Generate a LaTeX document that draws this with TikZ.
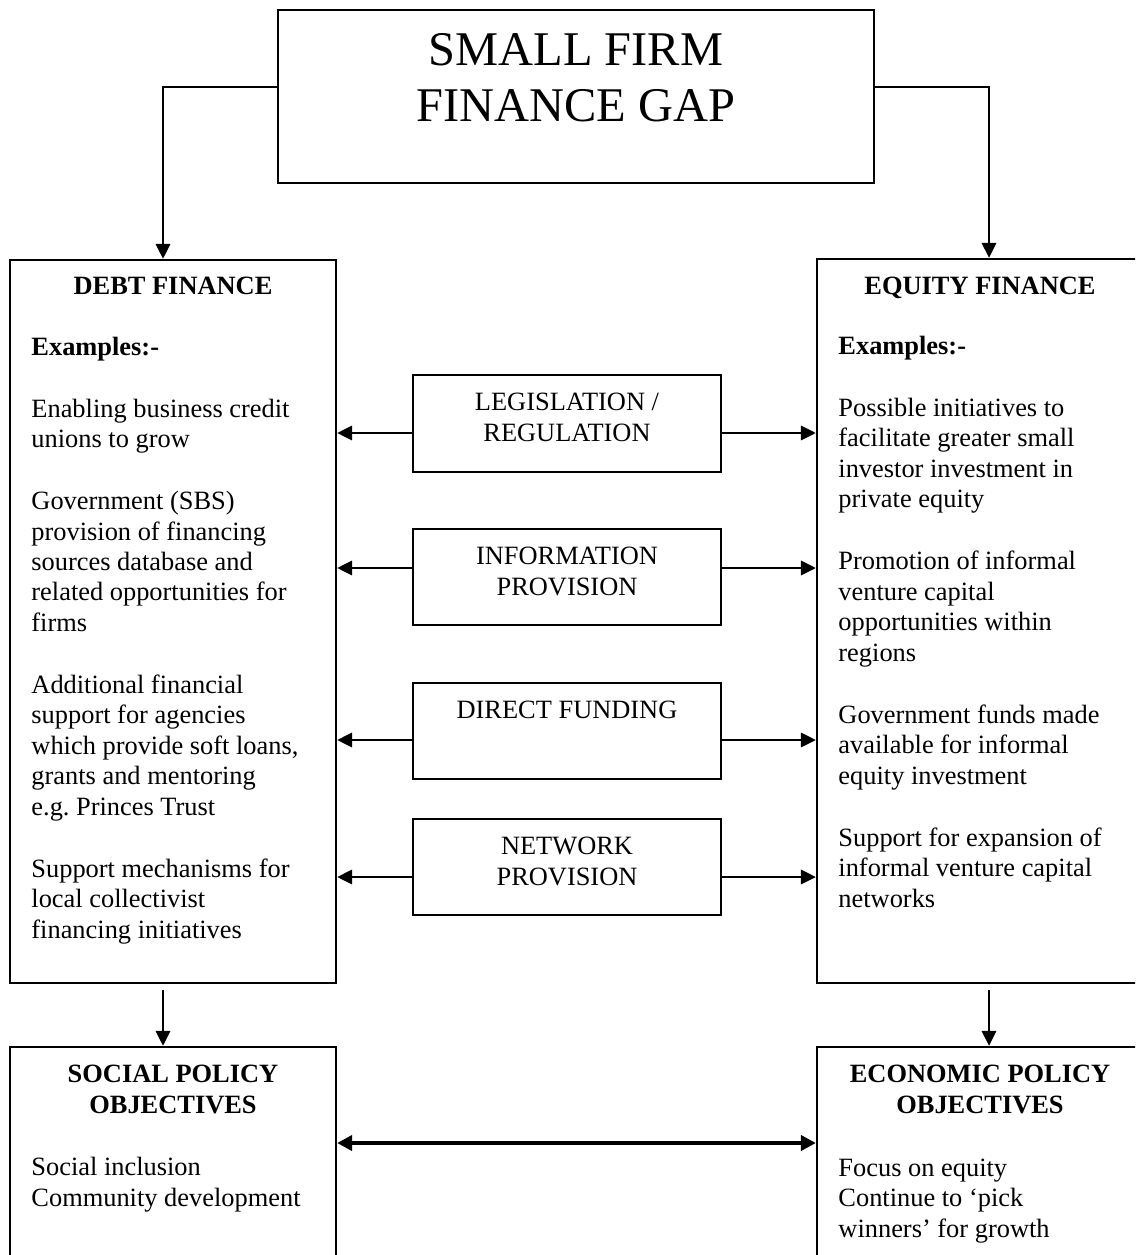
\documentclass[tikz,border=0pt]{standalone}
\usepackage{fontspec}
\setmainfont{Liberation Serif}
\usetikzlibrary{arrows.meta,fit}
\frenchspacing

\tikzset{
  box/.style={draw, line width=1pt, inner sep=0pt},
  arr/.style={-{Triangle[length=6.8pt,width=6.4pt]}, line width=1.3pt},
  dblarr/.style={{Triangle[length=6.8pt,width=6.8pt]}-{Triangle[length=6.8pt,width=6.8pt]}, line width=1.9pt},
  head/.style={inner sep=0pt, font=\fontsize{12}{13.8}\selectfont\bfseries, align=center, anchor=base},
  mid/.style={inner sep=0pt, font=\fontsize{12}{13.8}\selectfont, align=center, anchor=base},
  body/.style={inner sep=0pt, font=\fontsize{12}{13.8}\selectfont, align=left, anchor=base west},
}

\begin{document}
\begin{tikzpicture}[x=0.4545pt, y=-0.4545pt]
  \useasboundingbox (0,0) rectangle (1135,1255);
  \clip (0,0) rectangle (1135,1255);

  % the gap (text nodes sit on their last baseline)
  \node[box, fit={(278,10) (874,183)}] (gap) {};
  \node[inner sep=0pt, font=\fontsize{22}{25.9}\selectfont, align=center, anchor=base] (gaptext) at (576,122) {SMALL FIRM\\FINANCE GAP};

  % debt and equity
  \node[box, fit={(10,260) (336,983)}] (debt) {};
  \node[box, fit={(817,259) (1160,983)}] (equity) {};
  \node[head] (debthead) at (173,295) {DEBT FINANCE};
  \node[head] (equityhead) at (980,295) {EQUITY FINANCE};
  \node[body] (debtbody) at (31,938) {\textbf{Examples:-}\\[14.3pt]
    Enabling business credit\\unions to grow\\[14.5pt]
    Government (SBS)\\provision of financing\\sources database and\\related opportunities for\\firms\\[14.5pt]
    Additional financial\\support for agencies\\which provide soft loans,\\grants and mentoring\\e.g. Princes Trust\\[14.5pt]
    Support mechanisms for\\local collectivist\\financing initiatives};
  \node[body] (equitybody) at (838,907) {\textbf{Examples:-}\\[14.3pt]
    Possible initiatives to\\facilitate greater small\\investor investment in\\private equity\\[14.5pt]
    Promotion of informal\\venture capital\\opportunities within\\regions\\[14.5pt]
    Government funds made\\available for informal\\equity investment\\[14.5pt]
    Support for expansion of\\informal venture capital\\networks};

  % policy tools
  \node[box, fit={(413,375) (721,472)}] (leg) {};
  \node[box, fit={(413,529) (721,625)}] (info) {};
  \node[box, fit={(413,683) (721,779)}] (fund) {};
  \node[box, fit={(413,819) (721,915)}] (net) {};
  \node[mid] (legtext) at (567,441) {LEGISLATION /\\REGULATION};
  \node[mid] (infotext) at (567,595) {INFORMATION\\PROVISION};
  \node[mid] (fundtext) at (567,718) {DIRECT FUNDING};
  \node[mid] (nettext) at (567,885) {NETWORK\\PROVISION};

  % objectives
  \node[box, fit={(10,1047) (336,1300)}] (social) {};
  \node[box, fit={(817,1047) (1160,1300)}] (economic) {};
  \node[head] (socialhead) at (173,1113) {SOCIAL POLICY\\OBJECTIVES};
  \node[head] (economichead) at (980,1113) {ECONOMIC POLICY\\OBJECTIVES};
  \node[body] (socialbody) at (31,1206) {Social inclusion\\Community development};
  \node[body] (economicbody) at (838,1237) {Focus on equity\\Continue to `pick\\winners' for growth};

  % connectors
  \draw[arr] (gap.west |- 0,87) -| (163,0 |- debt.north);
  \draw[arr] (gap.east |- 0,87) -| (989,0 |- equity.north);
  \foreach \n/\y in {leg/433, info/568, fund/740, net/877} {
    \draw[arr] (\n.west |- 0,\y) -- (debt.east |- 0,\y);
    \draw[arr] (\n.east |- 0,\y) -- (equity.west |- 0,\y);
  }
  \draw[arr] (debt.south -| 163,0) ++(0,6) -- (163,0 |- social.north);
  \draw[arr] (equity.south -| 989,0) ++(0,6) -- (989,0 |- economic.north);
  \draw[dblarr] (social.east |- 0,1143) -- (economic.west |- 0,1143);
\end{tikzpicture}
\end{document}
